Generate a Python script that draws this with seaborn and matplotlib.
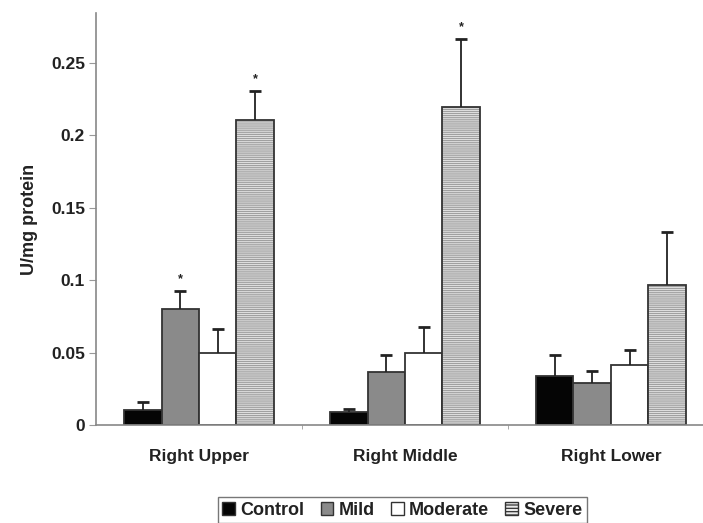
import matplotlib
matplotlib.use("Agg")
import matplotlib.pyplot as plt
import seaborn as sns
import pandas as pd
import numpy as np
from matplotlib.patches import Patch, Rectangle

regions = ["Right Upper", "Right Middle", "Right Lower"]
groups = ["Control", "Mild", "Moderate", "Severe"]
control = [0.0104, 0.0092, 0.0338]
mild = [0.0800, 0.0366, 0.0292]
moderate = [0.0500, 0.0497, 0.0414]
severe = [0.2106, 0.2198, 0.0967]
control_err = [0.0056, 0.0018, 0.0145]
mild_err = [0.0125, 0.0114, 0.0083]
moderate_err = [0.0160, 0.0183, 0.0104]
severe_err = [0.0203, 0.0466, 0.0368]
significant = {("Right Upper", "Mild"), ("Right Upper", "Severe"), ("Right Middle", "Severe")}
yticks = [0, 0.05, 0.1, 0.15, 0.2, 0.25]
ytick_labels = ["0", "0.05", "0.1", "0.15", "0.2", "0.25"]

vals = {"Control": control, "Mild": mild, "Moderate": moderate, "Severe": severe}
errs = {"Control": control_err, "Mild": mild_err, "Moderate": moderate_err, "Severe": severe_err}
rows = []
for g in groups:
    for i, r in enumerate(regions):
        rows.append({"region": r, "group": g, "value": vals[g][i], "err": errs[g][i]})
df = pd.DataFrame(rows)

sns.set_style("white")
plt.rcParams["font.family"] = ["Liberation Sans", "DejaVu Sans"]
plt.rcParams["font.weight"] = "bold"
plt.rcParams["hatch.linewidth"] = 0.9

fig = plt.figure(figsize=(7.03, 5.23), dpi=100)
ax = fig.add_axes([96 / 703, (523 - 425) / 523, (703 - 96) / 703, (425 - 13) / 523])

face = {"Control": "#050505", "Mild": "#8a8a8a", "Moderate": "#ffffff", "Severe": "#eaeaea"}
edge = "#333333"
hatch_col = "#a0a0a0"
sns.barplot(data=df, x="region", y="value", hue="group", order=regions, hue_order=groups,
            palette=face, width=0.727, errorbar=None, ax=ax, legend=False, saturation=1,
            edgecolor=edge, linewidth=1.3)

for g, cont in zip(groups, ax.containers):
    for i, bar in enumerate(cont):
        if g == "Severe":
            bar.set_hatch("--------")
            bar.set_edgecolor(hatch_col)
            bar.set_linewidth(0)
            ax.add_patch(Rectangle(bar.get_xy(), bar.get_width(), bar.get_height(),
                                   fill=False, edgecolor=edge, linewidth=1.3, zorder=bar.get_zorder() + 0.1))
        x = bar.get_x() + bar.get_width() / 2
        v = vals[g][i]
        e = errs[g][i]
        _, caps, _ = ax.errorbar([x], [v], yerr=[[0], [e]], fmt="none", ecolor="#222222",
                                 elinewidth=1.3, capsize=4, capthick=2)
        if len(caps) == 2:
            caps[0].set_visible(False)
        if (regions[i], g) in significant:
            ax.annotate("*", (x, v + e), xytext=(0, 4), textcoords="offset points",
                        ha="center", va="bottom", fontsize=9, color="#222222")

ax.set_xlim(-0.5, 2.447)
ax.set_ylim(0, 0.2845)
ax.set_yticks(yticks)
ax.set_yticklabels(ytick_labels, fontsize=12.5, fontweight="bold", color="#222222")
ax.set_xticks(range(len(regions)))
ax.set_xticklabels(regions, fontsize=12.5, fontweight="bold", color="#222222")
ax.set_xticks([0.5, 1.5], minor=True)
ax.tick_params(axis="x", which="major", length=0, pad=17)
ax.tick_params(axis="x", which="minor", length=3, color="#999999", direction="out", bottom=True)
ax.tick_params(axis="y", length=5, color="#999999", direction="out", left=True, pad=3)
ax.set_xlabel("")
ax.set_ylabel("U/mg protein", fontsize=13, fontweight="bold", color="#222222", labelpad=9)
for s in ["top", "right"]:
    ax.spines[s].set_visible(False)
for s in ["left", "bottom"]:
    ax.spines[s].set_color("#888888")
    ax.spines[s].set_linewidth(1.2)

handles = []
for g in groups:
    h = Patch(facecolor=face[g], edgecolor=edge, linewidth=1.0,
              hatch="-----" if g == "Severe" else None)
    handles.append(h)
leg = fig.legend(handles, groups, loc="upper center", bbox_to_anchor=(0.5725, (523 - 497) / 523),
                 ncol=4, frameon=True, fancybox=False, edgecolor="#555555", borderaxespad=0,
                 handlelength=0.7, handleheight=0.7, handletextpad=0.3, columnspacing=0.9,
                 borderpad=0.25, prop={"weight": "bold", "size": 13})
leg.get_frame().set_linewidth(1.0)
for t in leg.get_texts():
    t.set_color("#222222")

fig.savefig("out.png", dpi=100)
